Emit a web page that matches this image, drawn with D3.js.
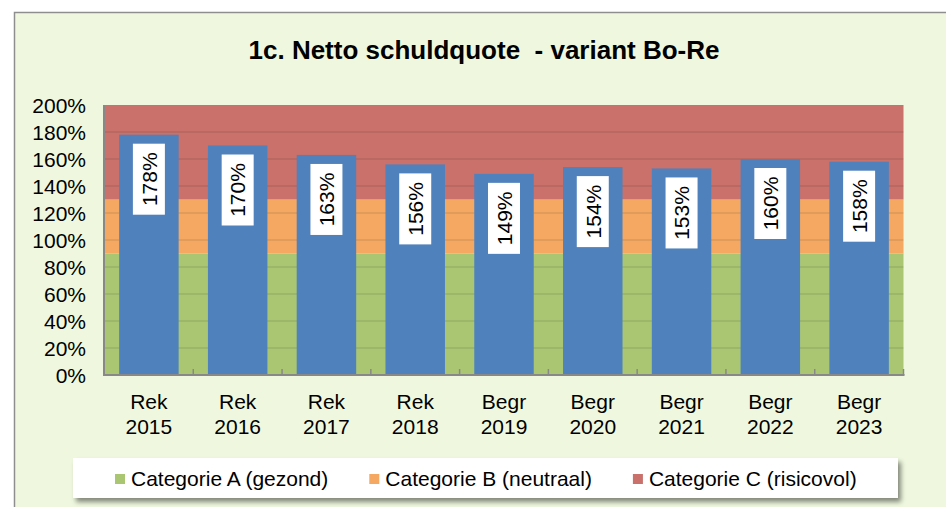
<!DOCTYPE html>
<html>
<head>
<meta charset="utf-8">
<title>Netto schuldquote</title>
<style>
  body { margin: 0; background: #fff; }
  text { font-family: "Liberation Sans", Arial, sans-serif; fill: #000; }
</style>
</head>
<body>
<div id="chart"></div>
<script src="https://cdn.jsdelivr.net/npm/d3@7/dist/d3.min.js"></script>
<script>

// data
var periods = ['Rek', 'Rek', 'Rek', 'Rek', 'Begr', 'Begr', 'Begr', 'Begr', 'Begr'];
var years = ['2015', '2016', '2017', '2018', '2019', '2020', '2021', '2022', '2023'];
var values = [178, 170, 163, 156, 149, 154, 153, 160, 158];

// achtergrond-banden (gestapeld): A 0-90, B 90-130, C 130-200
var bandNames = ['Categorie A (gezond)', 'Categorie B (neutraal)', 'Categorie C (risicovol)'];
var bandSizes = [90, 40, 70];
var bandColors = ['#AAC673', '#F4A862', '#C9716A'];

var yTicks = [0, 20, 40, 60, 80, 100, 120, 140, 160, 180, 200];

var W = 946, H = 507;
var plotL = 104.5, plotR = 903.5, plotT = 105, plotB = 375;

var svg = d3.select('#chart')
  .append('svg')
  .attr('width', W)
  .attr('height', H);

var defs = svg.append('defs');
var shadow = defs.append('filter').attr('id', 'shadow')
  .attr('x', '-5%').attr('y', '-30%').attr('width', '115%').attr('height', '180%');
shadow.append('feDropShadow')
  .attr('dx', 3).attr('dy', 4).attr('stdDeviation', 2.5)
  .attr('flood-color', '#000').attr('flood-opacity', 0.45);

// kader
svg.append('rect')
  .attr('x', 14.5).attr('y', 12.5)
  .attr('width', W).attr('height', H)
  .attr('fill', '#EFF8DF')
  .attr('stroke', '#8E8E8E')
  .attr('stroke-width', 1.5);

// titel
svg.append('text')
  .attr('x', 484).attr('y', 59)
  .attr('text-anchor', 'middle')
  .style('font-size', '26px')
  .style('font-weight', 'bold')
  .style('white-space', 'pre')
  .text('1c. Netto schuldquote  - variant Bo-Re');

var x = d3.scaleBand()
  .domain(d3.range(values.length))
  .range([plotL, plotR])
  .padding(0);

var y = d3.scaleLinear()
  .domain([0, 200])
  .range([plotB, plotT]);

// banden
var stack = [];
var acc = 0;
bandSizes.forEach(function(s, i) {
  stack.push({ y0: acc, y1: acc + s, color: bandColors[i] });
  acc += s;
});

svg.append('g').selectAll('rect')
  .data(stack)
  .enter().append('rect')
  .attr('x', plotL)
  .attr('width', plotR - plotL)
  .attr('y', d => y(d.y1))
  .attr('height', d => y(d.y0) - y(d.y1))
  .attr('fill', d => d.color);

// rasterlijnen
svg.append('g').selectAll('line')
  .data(yTicks.filter(d => d > 0 && d < 200))
  .enter().append('line')
  .attr('x1', plotL).attr('x2', plotR)
  .attr('y1', d => y(d)).attr('y2', d => y(d))
  .attr('stroke', '#000')
  .attr('stroke-opacity', 0.1)
  .attr('stroke-width', 1.6);

// kolommen
var barW = x.bandwidth() * 0.67;
svg.append('g').selectAll('rect')
  .data(values)
  .enter().append('rect')
  .attr('x', (d, i) => x(i) + x.bandwidth() / 2 - barW / 2)
  .attr('width', barW)
  .attr('y', d => y(d))
  .attr('height', d => plotB - y(d))
  .attr('fill', '#4F81BD');

// assen
svg.append('line')
  .attr('x1', plotL - 0.5).attr('x2', plotL - 0.5)
  .attr('y1', plotT).attr('y2', plotB + 1)
  .attr('stroke', '#888').attr('stroke-width', 2);
svg.append('line')
  .attr('x1', plotL - 1.5).attr('x2', plotR + 1)
  .attr('y1', plotB).attr('y2', plotB)
  .attr('stroke', '#888').attr('stroke-width', 2);
svg.append('g').selectAll('line')
  .data(d3.range(1, values.length + 1))
  .enter().append('line')
  .attr('x1', d => x.step() * d + plotL).attr('x2', d => x.step() * d + plotL)
  .attr('y1', plotB - 6).attr('y2', plotB)
  .attr('stroke', '#888').attr('stroke-width', 1.5);

// y-labels
svg.append('g').selectAll('text')
  .data(yTicks)
  .enter().append('text')
  .attr('x', 86)
  .attr('y', d => y(d) + 7.5)
  .attr('text-anchor', 'end')
  .style('font-size', '21px')
  .text(d => d + '%');

// x-labels
var xl = svg.append('g').selectAll('text')
  .data(values)
  .enter().append('text')
  .attr('text-anchor', 'middle')
  .style('font-size', '21px');
xl.append('tspan')
  .attr('x', (d, i) => x(i) + x.bandwidth() / 2)
  .attr('y', 409)
  .text((d, i) => periods[i]);
xl.append('tspan')
  .attr('x', (d, i) => x(i) + x.bandwidth() / 2)
  .attr('y', 434)
  .text((d, i) => years[i]);

// datalabels
var lab = svg.append('g').selectAll('g')
  .data(values)
  .enter().append('g')
  .attr('transform', (d, i) => 'translate(' + (x(i) + x.bandwidth() / 2) + ',' + (y(d) + 44.5) + ')');
lab.append('rect')
  .attr('x', -16).attr('y', -35.5)
  .attr('width', 32).attr('height', 71)
  .attr('fill', '#fff');
lab.append('text')
  .attr('transform', 'rotate(-90)')
  .attr('text-anchor', 'middle')
  .attr('y', 7.8)
  .style('font-size', '21px')
  .text(d => d + '%');

// legenda
svg.append('rect')
  .attr('x', 73).attr('y', 458)
  .attr('width', 825).attr('height', 40)
  .attr('fill', '#fff')
  .attr('filter', 'url(#shadow)');

var lx = 115;
bandNames.forEach(function(name, i) {
  svg.append('rect')
    .attr('x', lx).attr('y', 474)
    .attr('width', 10).attr('height', 10)
    .attr('fill', bandColors[i]);
  var t = svg.append('text')
    .attr('x', lx + 16).attr('y', 486)
    .style('font-size', '21px')
    .text(name);
  lx += 16 + t.node().getComputedTextLength() + 41;
});

</script>
</body>
</html>
